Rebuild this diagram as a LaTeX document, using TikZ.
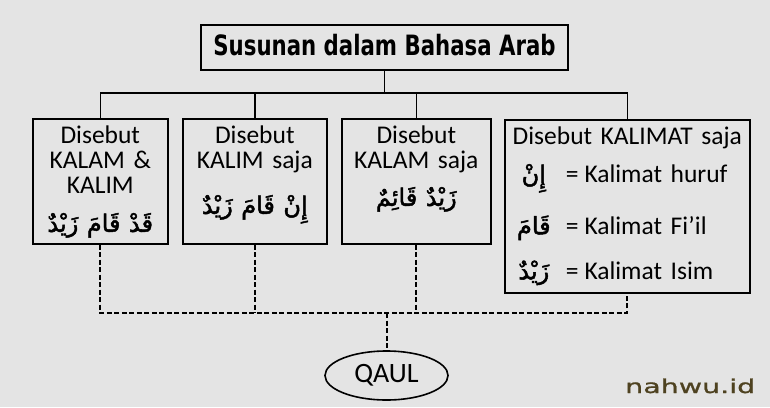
\documentclass[tikz,border=0pt]{standalone}
\usepackage{fontspec}
\setmainfont{Carlito}
\newfontfamily\arabicfont[Script=Arabic, FakeBold=2]{DejaVu Sans}
\newfontfamily\titlefont[FakeStretch=0.76]{DejaVu Sans}
\newfontfamily\sitefont[FakeStretch=1.5, FakeBold=1.2]{DejaVu Sans}
\TeXXeTstate=1
\lineskiplimit=-100pt
\usetikzlibrary{positioning,shapes.geometric}

\definecolor{bggray}{RGB}{228,228,228}
\definecolor{siteolive}{RGB}{78,66,32}

\newcommand{\arab}[1]{{\arabicfont\fontsize{24pt}{25pt}\selectfont\beginR #1\endR}}
\newcommand{\kalimatrow}[2]{\leavevmode\hbox to 245pt{\hbox to 58pt{\hss\arab{#1}\hss}\hskip 3pt=\hskip 6pt #2\hfil}}

\begin{document}
\begin{tikzpicture}[x=1pt, y=-1pt,
  every node/.style={inner sep=0pt},
  kotak/.style={draw, line width=1.6pt, align=center, text height=25pt,
    anchor=north west, font=\fontsize{25.5pt}{25pt}\selectfont},
  garis/.style={line width=1.6pt},
  putus/.style={line width=2pt, dash pattern=on 5pt off 2.5pt}]

  % background and picture size
  \fill[bggray] (0,0) rectangle (770,407);

  \node[draw, line width=1.6pt, minimum width=367pt, minimum height=45pt,
    text depth=6pt, font=\titlefont\bfseries\fontsize{28pt}{30pt}\selectfont]
    (susunan) at (384.5,47.5) {Susunan dalam Bahasa Arab};

  \node[kotak, text width=135pt, text depth=100pt] (kalam-kalim) at (32,118)
    {Disebut\\KALAM \&\\KALIM\\[13pt]\arab{قَدْ قَامَ زَيْدٌ}};
  \node[kotak, text width=144pt, text depth=100pt] (kalim) at (182,118)
    {Disebut\\KALIM saja\\[20pt]\arab{إِنْ قَامَ زَيْدٌ}};
  \node[kotak, text width=149pt, text depth=100pt] (kalam) at (341,118)
    {Disebut\\KALAM saja\\[12pt]\arab{زَيْدٌ قَائِمٌ}};
  \node[kotak, text width=245pt, text depth=148pt] (kalimat) at (504,119)
    {Disebut KALIMAT saja\\[13pt]
     \kalimatrow{إِنْ}{Kalimat huruf}\\[22pt]
     \kalimatrow{قَامَ}{Kalimat Fi'il}\\[20pt]
     \kalimatrow{زَيْدٌ}{Kalimat Isim}};

  \node[ellipse, draw, line width=1.6pt, minimum width=123pt, minimum height=49pt,
    font=\fontsize{28pt}{30pt}\selectfont] (qaul) at (386.5,375.5) {QAUL};

  \node[anchor=base west, text=siteolive, font=\sitefont\fontsize{19pt}{22pt}\selectfont]
    (situs) at (625,393) {nahwu.id};

  % solid tree
  \coordinate (bar) at (susunan.south |- 0,93);
  \draw[garis] (susunan.south) -- (bar);
  \draw[garis] (kalam-kalim.north) |- (bar) -| (kalimat.north);
  \draw[garis] (kalim.north) -- (kalim.north |- bar);
  \draw[garis] (kalam.north) -- (kalam.north |- bar);

  % dashed join to QAUL
  \coordinate (gabung) at (qaul.north |- 0,313);
  \draw[putus] (kalam-kalim.south) |- (gabung) -| (kalimat.south);
  \draw[putus] (kalim.south) -- (kalim.south |- gabung);
  \draw[putus] (kalam.south) -- (kalam.south |- gabung);
  \draw[putus] (gabung) -- (qaul.north);
\end{tikzpicture}
\end{document}
